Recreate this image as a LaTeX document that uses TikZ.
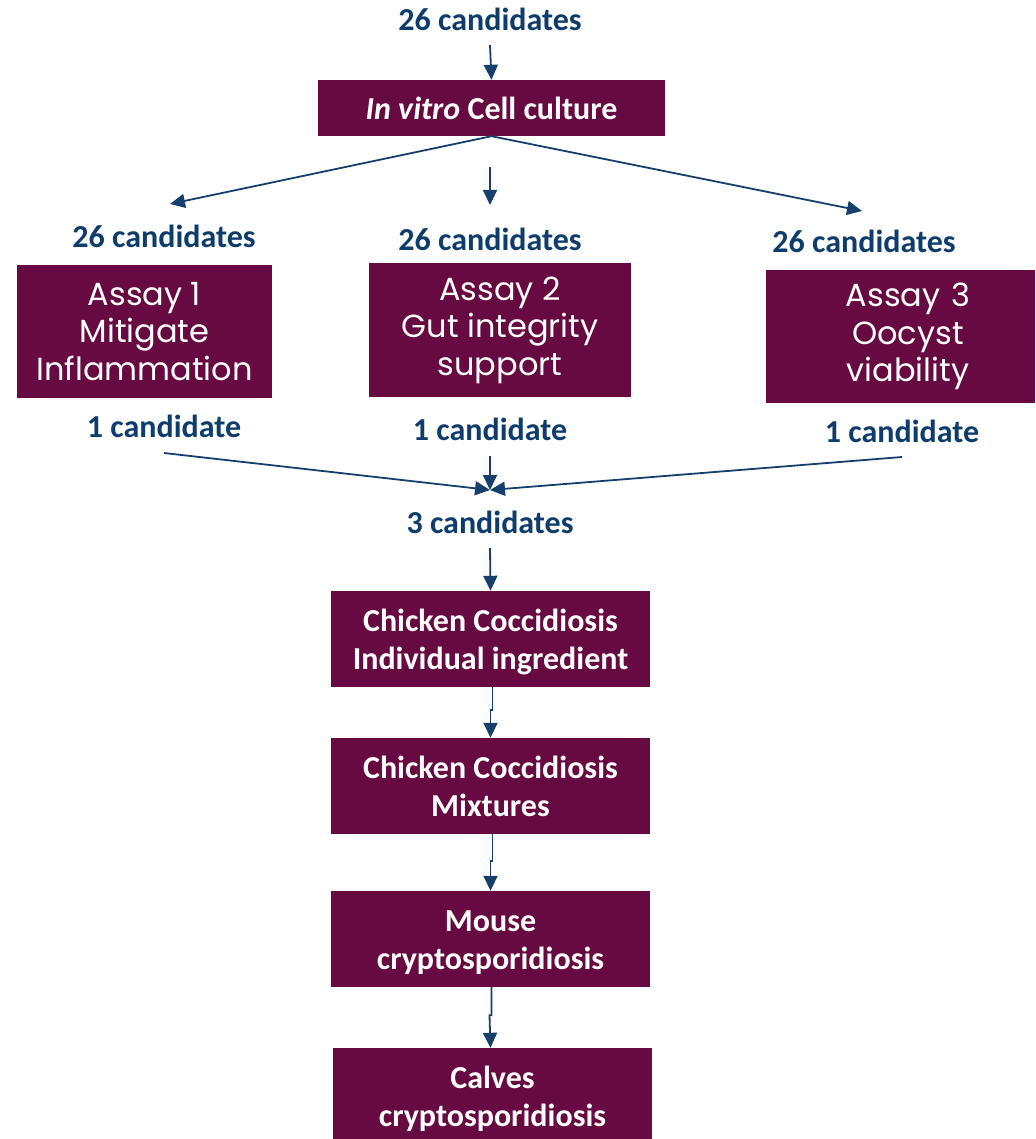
\documentclass[tikz,border=0pt]{standalone}
\usepackage{fontspec}
\setmainfont{Carlito}
\newfontfamily\popp{Poppins}
\usetikzlibrary{arrows.meta}
\definecolor{boxc}{HTML}{660A41}
\definecolor{bluec}{HTML}{0F3D6B}
\definecolor{linec}{HTML}{173F6B}
\newcommand\twolines[2]{\raisebox{-4pt}[\height][\depth]{\begin{tabular}{@{}c@{}}#1\\#2\end{tabular}}}
\tikzset{
  arr/.style={draw=linec, line width=1.8pt, -{Triangle[length=15pt,width=14pt]}},
  cnt/.style={text=bluec, font=\fontsize{32}{38}\selectfont\bfseries, inner sep=0pt},
  bbox/.style={fill=boxc, text=white, align=center, inner sep=0pt},
  abox/.style={bbox, font=\popp\fontsize{32}{37.5}\selectfont},
  cbox/.style={bbox, font=\fontsize{32}{38}\selectfont\bfseries, minimum width=319pt, minimum height=96pt},
}
\begin{document}
\begin{tikzpicture}[x=1pt,y=-1pt]
\useasboundingbox (0,0) rectangle (1035,1139);
% top
\node[cnt] (t0) at (490,19) {26 candidates};
\node[bbox, font=\fontsize{32}{38}\selectfont\bfseries, minimum width=347pt, minimum height=56pt] (c1) at (491.5,108) {\textit{In vitro} Cell culture};
\coordinate (t0s) at (490,45);
\draw[arr] (t0s) -- (c1.north);
% fan out
\coordinate (f1) at (170,204);
\coordinate (f2s) at (490,167);
\coordinate (f2) at (490,205);
\coordinate (f3) at (862,211);
\draw[arr] (c1.south) -- (f1);
\draw[arr] (f2s) -- (f2);
\draw[arr] (c1.south) -- (f3);
\node[cnt] (l1) at (164,236) {26 candidates};
\node[cnt] (l2) at (490,239) {26 candidates};
\node[cnt] (l3) at (864,241) {26 candidates};
% assays
\node[abox, minimum width=255pt, minimum height=133pt] (a1) at (144.5,331.5) {Assay 1\\Mitigate\\Inflammation};
\node[abox, minimum width=262pt, minimum height=134pt] (a2) at (500,330) {Assay 2\\Gut integrity\\support};
\node[abox, minimum width=269pt, minimum height=133pt, text width=269pt] (a3) at (900.5,336.5) {\hspace*{15pt}Assay 3\\\hspace*{15pt}Oocyst\\\hspace*{15pt}viability};
\node[cnt] (o1) at (164,426) {1 candidate};
\node[cnt] (o2) at (490,429) {1 candidate};
\node[cnt] (o3) at (902,431) {1 candidate};
% converge
\coordinate (m1) at (164,453);
\coordinate (m2) at (490,456);
\coordinate (m3) at (902,457);
\coordinate (mc) at (490,490);
\draw[arr] (m1) -- (mc);
\draw[arr] (m2) -- (mc);
\draw[arr] (m3) -- (mc);
\node[cnt] (t3) at (490,522) {3 candidates};
\coordinate (t3s) at (490,548);
% chain
\node[cbox] (b1) at (490.5,639) {\twolines{Chicken Coccidiosis}{Individual ingredient}};
\node[cbox] (b2) at (490.5,786) {\twolines{Chicken Coccidiosis}{Mixtures}};
\node[cbox] (b3) at (490.5,939) {\twolines{Mouse}{cryptosporidiosis}};
\node[cbox] (b4) at (492.5,1096) {\twolines{Calves}{cryptosporidiosis}};
\draw[arr] (t3s) -- (b1.north);
\draw[arr] ([xshift=2pt]b1.south) -- ++(0,23) -- ++(-2,0) -- (b2.north);
\draw[arr] ([xshift=2pt]b2.south) -- ++(0,27) -- ++(-2,0) -- (b3.north);
\draw[arr] ([xshift=1pt]b3.south) -- ++(0,28) -- ++(-2,0) -- ([xshift=-2pt]b4.north);
\end{tikzpicture}
\end{document}
